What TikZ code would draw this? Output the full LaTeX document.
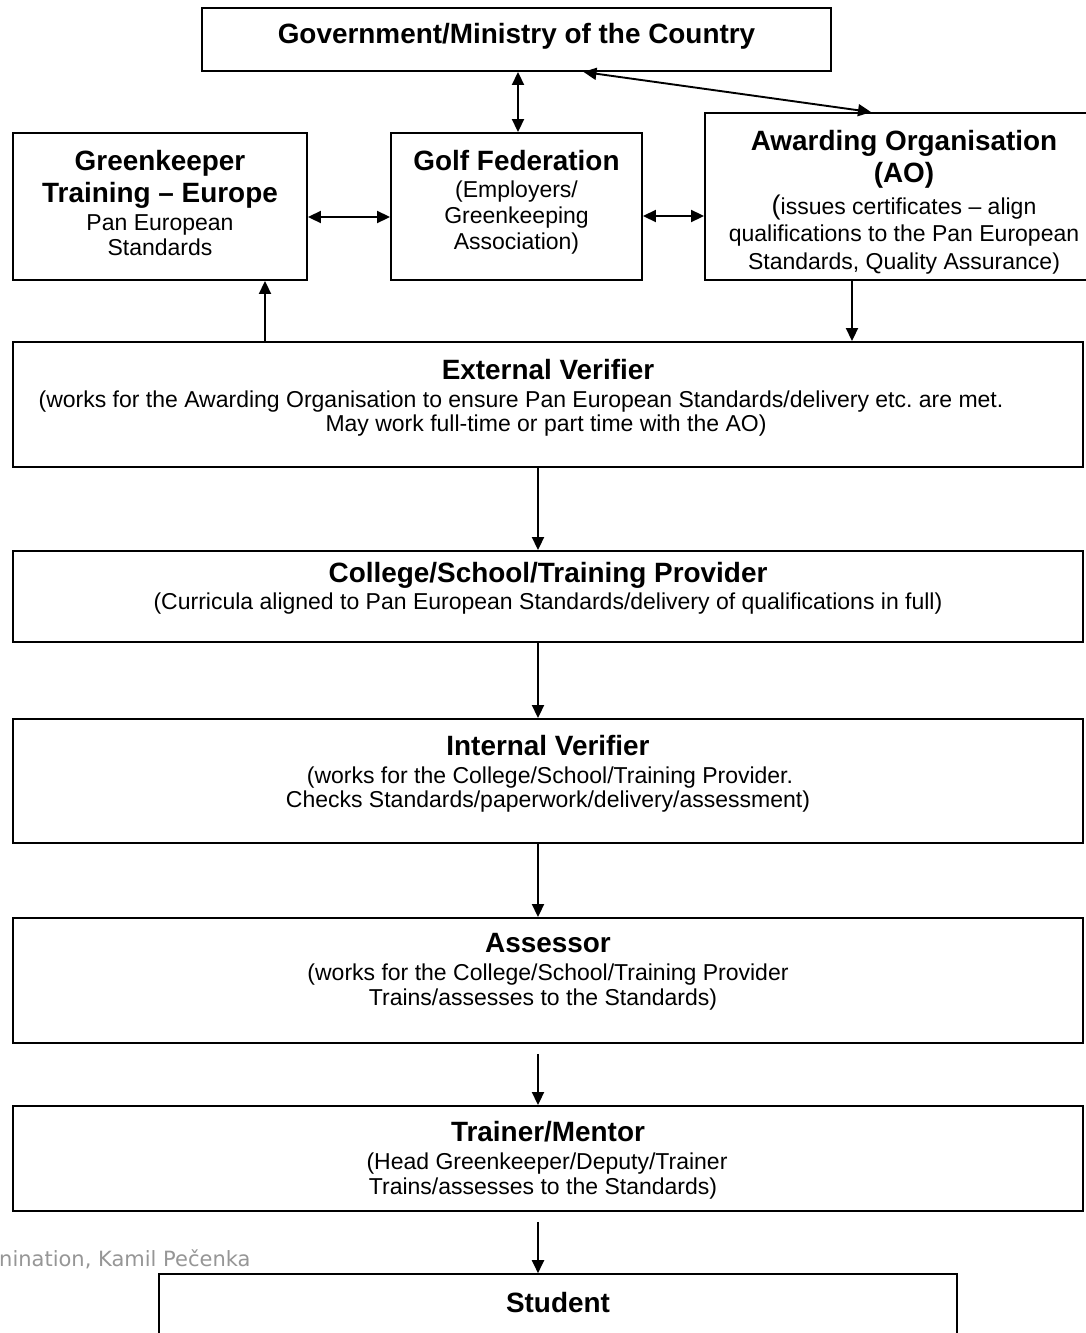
\documentclass[tikz,border=0pt]{standalone}
\usepackage{fontspec}
\setmainfont{Liberation Sans}
\newfontfamily\footfont{DejaVu Sans}
\usetikzlibrary{arrows.meta}
\definecolor{footgray}{RGB}{150,150,150}
\frenchspacing
\begin{document}
\begin{tikzpicture}[x=1pt,y=-1pt,
  box/.style={draw, line width=1.9pt, inner sep=0pt, rectangle},
  hd/.style={anchor=base, inner sep=0pt, font=\fontsize{27.9}{30}\selectfont\bfseries},
  bd/.style={anchor=base, inner sep=0pt, font=\fontsize{23}{25}\selectfont},
  arr/.style={line width=1.9pt, -{Triangle[length=13pt,width=12pt]}},
  dbl/.style={line width=1.9pt, {Triangle[length=13pt,width=12pt]}-{Triangle[length=13pt,width=12pt]}}
]
\clip (0,0) rectangle (1086,1333);
\fill[white] (0,0) rectangle (1086,1333);

% boxes
\node[box, minimum width=629pt, minimum height=63pt] (gov) at (516.5,39.5) {};
\node[box, minimum width=294pt, minimum height=147pt] (gk) at (160,206.5) {};
\node[box, minimum width=251pt, minimum height=147pt] (golf) at (516.5,206.5) {};
\node[box, minimum width=398pt, minimum height=167pt] (ao) at (904,196.5) {};
\node[box, minimum width=1070pt, minimum height=125pt] (ev) at (548,404.5) {};
\node[box, minimum width=1070pt, minimum height=91pt] (col) at (548,596.5) {};
\node[box, minimum width=1070pt, minimum height=124pt] (iv) at (548,781) {};
\node[box, minimum width=1070pt, minimum height=125pt] (as) at (548,980.5) {};
\node[box, minimum width=1070pt, minimum height=105pt] (tm) at (548,1158.5) {};
\node[box, line width=1.6pt, minimum width=798pt, minimum height=126pt] (st) at (558,1337) {};

% texts
\node[hd] (govt) at (516.5,43) {Government/Ministry of the Country};

\node[hd] (gkt1) at (160,170) {Greenkeeper};
\node[hd] (gkt2) at (160,202) {Training – Europe};
\node[bd] (gkb1) at (160,230) {Pan European};
\node[bd] (gkb2) at (160,255) {Standards};

\node[hd] (golft) at (516.5,170) {Golf Federation};
\node[bd] (golfb1) at (516.5,197) {(Employers/};
\node[bd] (golfb2) at (516.5,223) {Greenkeeping};
\node[bd] (golfb3) at (516.5,249) {Association)};

\node[hd] (aot1) at (904,150) {Awarding Organisation};
\node[hd] (aot2) at (904,182) {(AO)};
\node[bd] (aob1) at (904,214) {{\fontsize{27}{30}\selectfont(}issues certificates – align};
\node[bd] (aob2) at (904,241) {qualifications to the Pan European};
\node[bd] (aob3) at (904,269) {Standards, Quality Assurance)};

\node[hd] (evt) at (548,379) {External Verifier};
\node[bd] (evb1) at (521,407) {(works for the Awarding Organisation to ensure Pan European Standards/delivery etc. are met.};
\node[bd] (evb2) at (546,431) {May work full-time or part time with the AO)};

\node[hd] (colt) at (548,582) {College/School/Training Provider};
\node[bd] (colb) at (548,609) {(Curricula aligned to Pan European Standards/delivery of qualifications in full)};

\node[hd] (ivt) at (548,755) {Internal Verifier};
\node[bd] (ivb1) at (550,783) {(works for the College/School/Training Provider.};
\node[bd] (ivb2) at (548,807) {Checks Standards/paperwork/delivery/assessment)};

\node[hd] (ast) at (548,952) {Assessor};
\node[bd] (asb1) at (548,980) {(works for the College/School/Training Provider};
\node[bd] (asb2) at (543,1005) {Trains/assesses to the Standards)};

\node[hd] (tmt) at (548,1141) {Trainer/Mentor};
\node[bd] (tmb1) at (547,1169) {(Head Greenkeeper/Deputy/Trainer};
\node[bd] (tmb2) at (543,1194) {Trains/assesses to the Standards)};

\node[hd] (stt) at (558,1312) {Student};

\node[anchor=base west, inner sep=0pt, text=footgray, font=\footfont\fontsize{21}{24}\selectfont] (foot) at (-1,1266) {nination, Kamil Pečenka};

% connectors
\draw[dbl] ([xshift=1.5pt]gov.south) -- ([xshift=1.5pt]golf.north);
\draw[dbl] ([xshift=67pt]gov.south) -- ([xshift=-33pt]ao.north);
\draw[dbl] ([yshift=-10.5pt]gk.east) -- ([yshift=-10.5pt]golf.west);
\draw[dbl] ([yshift=-9.5pt]golf.east) -- ([yshift=-9.5pt]golf.east -| ao.west);
\draw[arr] ([xshift=105pt]gk.south |- ev.north) -- ([xshift=105pt]gk.south);
\draw[arr] ([xshift=-52pt]ao.south) -- ([xshift=-52pt]ao.south |- ev.north);
\draw[arr] ([xshift=-10pt]ev.south) -- ([xshift=-10pt]col.north);
\draw[arr] ([xshift=-10pt]col.south) -- ([xshift=-10pt]iv.north);
\draw[arr] ([xshift=-10pt]iv.south) -- ([xshift=-10pt]as.north);
\draw[arr] ([xshift=-10pt,yshift=-10pt]as.south) -- ([xshift=-10pt]tm.north);
\draw[arr] ([xshift=-10pt,yshift=-10pt]tm.south) -- ([xshift=-20pt]st.north);
\end{tikzpicture}
\end{document}
